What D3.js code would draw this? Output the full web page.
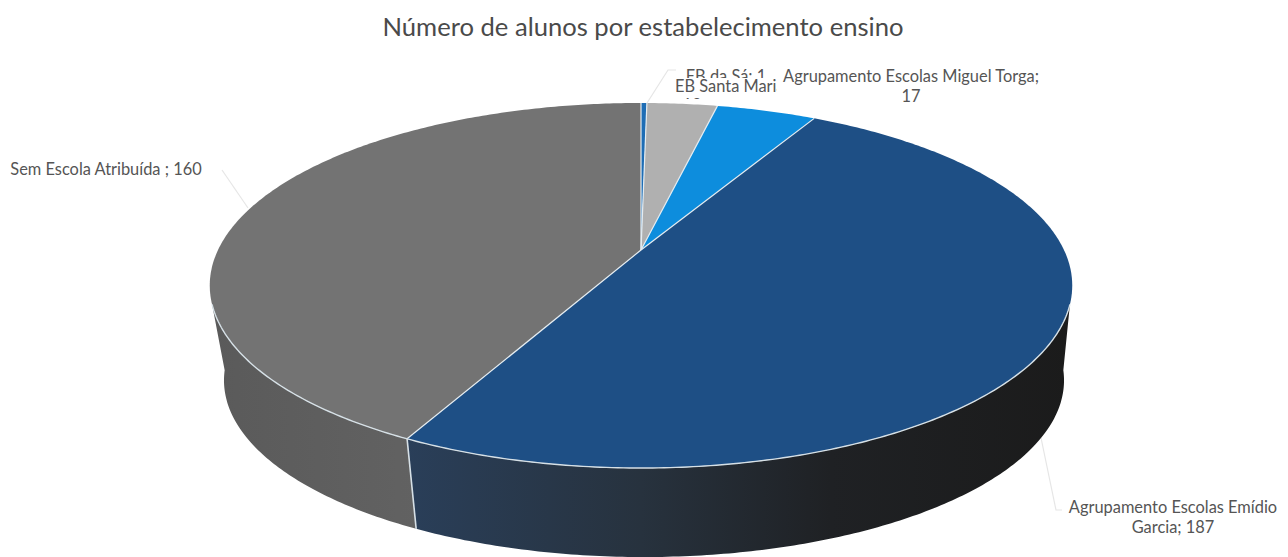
<!DOCTYPE html>
<html lang="pt">
<head>
<meta charset="utf-8">
<title>Número de alunos por estabelecimento ensino</title>
<script src="https://cdn.jsdelivr.net/npm/d3@7/dist/d3.min.js"></script>
<style>
  html, body { margin: 0; background: #fff; }
  svg { display: block; }
  text { font-family: Lato, "Open Sans", sans-serif; fill: #555; }
  .title { font-size: 25.6px; fill: #4a4a4a; }
  .label { font-size: 16.4px; text-anchor: middle; }
</style>
</head>
<body>
<svg id="chart" width="1288" height="557"></svg>
<script>
/* ── Data ─────────────────────────────────────────────────────────────────── */

const CHART_TITLE = "Número de alunos por estabelecimento ensino";
const CATEGORIES = [
  "EB da Sá",
  "EB Santa Maria",
  "Agrupamento Escolas Miguel Torga",
  "Agrupamento Escolas Emídio Garcia",
  "Sem Escola Atribuída ",
];
const VALUES = [1, 12, 17, 187, 160];

/* ── Style and layout ─────────────────────────────────────────────────────── */

const TOP_COLORS = ["#1e6db5", "#b0b0b0", "#0d8ddd", "#1e4f85", "#737373"];
const RIM_COLOR = "#d6e0e6";
const LEADER_COLOR = "#e6e6e6";

// perspective of the disc: apex on screen, tilt, and x/y spread per rim
const TILT = 0.1945;
const TOP_RIM = { cx: 641, cy: 250, sx: 423, sy: 175.6 };
const BOTTOM_RIM = { cx: 644, cy: 346, sx: 412, sy: 170 };

// label boxes, painted in this order so later ones cover earlier ones
const LABELS = [
  { cat: 0, x: [726], y: [82], box: null },
  { cat: 1, x: [732, 692], y: [92, 111], box: [670, 78, 107, 25], clipTo: 99 },
  { cat: 2, x: [911, 911], y: [82, 102], box: [777, 66, 268, 40] },
  { cat: 3, x: [1173, 1173], y: [513, 533], box: [1062, 494, 222, 46] },
  { cat: 4, x: [106], y: [175], box: [4, 158, 204, 24] },
];
const WRAP_AFTER = { 1: "EB Santa Maria;", 2: "Agrupamento Escolas Miguel Torga;", 3: "Agrupamento Escolas Emídio" };

const LEADERS = [
  [[676, 70], [668, 70], [647, 103]],
  [[222, 170], [248, 208]],
  [[1040, 433], [1056, 510], [1062, 510]],
];

/* ── Helpers ──────────────────────────────────────────────────────────────── */

const svg = d3.select("#chart");
const defs = svg.append("defs");
const toPath = d3.line();

// angle is clockwise from 12 o'clock, in radians, as d3.pie gives it
function project(rim, angle) {
  const x = Math.sin(angle);
  const y = -Math.cos(angle);
  const w = 1 - TILT * y;
  const sx = d3.scaleLinear().domain([-1, 1]).range([rim.cx - rim.sx, rim.cx + rim.sx]);
  const sy = d3.scaleLinear().domain([-1, 1]).range([rim.cy - rim.sy, rim.cy + rim.sy]);
  return [sx(x / w), sy(y / w)];
}

function arcPoints(rim, a0, a1) {
  const n = Math.max(2, Math.ceil(Math.abs(a1 - a0) * 90));
  return d3.range(n + 1).map((i) => project(rim, a0 + ((a1 - a0) * i) / n));
}

const deg = (d) => (d * Math.PI) / 180;

function gradient(id, stops) {
  const g = defs.append("linearGradient")
    .attr("id", id)
    .attr("gradientUnits", "userSpaceOnUse")
    .attr("x1", 210).attr("x2", 1072).attr("y1", 0).attr("y2", 0);
  stops.forEach(([o, c]) => g.append("stop").attr("offset", o).attr("stop-color", c));
}

/* ── Title ────────────────────────────────────────────────────────────────── */

svg.append("text")
  .attr("class", "title")
  .attr("x", 643)
  .attr("y", 36)
  .attr("text-anchor", "middle")
  .text(CHART_TITLE);

/* ── Leaders and labels ───────────────────────────────────────────────────── */

LEADERS.forEach((pts) => {
  svg.append("path")
    .attr("d", toPath(pts))
    .attr("fill", "none")
    .attr("stroke", LEADER_COLOR)
    .attr("stroke-width", 1.2);
});

LABELS.forEach((l) => {
  if (l.box) {
    svg.append("rect")
      .attr("x", l.box[0]).attr("y", l.box[1])
      .attr("width", l.box[2]).attr("height", l.box[3])
      .attr("fill", "#fff");
  }
  const full = `${CATEGORIES[l.cat]}; ${VALUES[l.cat]}`;
  const head = WRAP_AFTER[l.cat];
  const lines = head ? [head, full.slice(head.length).trim()] : [full];
  // the second line of a squeezed label only peeks out of its box
  if (l.clipTo) {
    defs.append("clipPath")
      .attr("id", `clip-${l.cat}`)
      .append("rect")
      .attr("x", 0).attr("y", 0)
      .attr("width", 1288).attr("height", l.clipTo);
  }
  lines.forEach((t, i) => {
    const el = svg.append("text")
      .attr("class", "label")
      .attr("x", l.x[i])
      .attr("y", l.y[i])
      .text(t);
    if (l.clipTo) el.attr("clip-path", `url(#clip-${l.cat})`);
  });
});

/* ── Pie ──────────────────────────────────────────────────────────────────── */

const slices = d3.pie().sort(null).startAngle(0).endAngle(2 * Math.PI)(VALUES);
const color = d3.scaleOrdinal().domain(d3.range(VALUES.length)).range(TOP_COLORS);
const seam = slices[3].endAngle;
const rimRight = deg(107);
const rimLeft = deg(253);

// side wall, only the two big slices reach the front
gradient("wall-blue", [[0.2, "#2a405c"], [0.5, "#27323e"], [0.72, "#1f2124"], [1, "#1b1b1b"]]);
gradient("wall-grey", [[0, "#5a5a5a"], [0.25, "#626262"]]);

svg.append("path")
  .attr("d", toPath([
    ...arcPoints(TOP_RIM, rimRight, seam),
    ...arcPoints(BOTTOM_RIM, seam, deg(98)),
  ]) + "Z")
  .attr("fill", "url(#wall-blue)");

svg.append("path")
  .attr("d", toPath([
    ...arcPoints(TOP_RIM, seam, rimLeft),
    ...arcPoints(BOTTOM_RIM, deg(262), seam),
  ]) + "Z")
  .attr("fill", "url(#wall-grey)");

// top face
slices.forEach((s) => {
  svg.append("path")
    .attr("d", toPath([[TOP_RIM.cx, TOP_RIM.cy], ...arcPoints(TOP_RIM, s.startAngle, s.endAngle)]) + "Z")
    .attr("fill", color(s.index));
});

// radial separators
slices.forEach((s) => {
  svg.append("path")
    .attr("d", toPath([[TOP_RIM.cx, TOP_RIM.cy], project(TOP_RIM, s.startAngle)]))
    .attr("stroke", "#e4ecf1")
    .attr("stroke-width", 1.2);
});

// front rim and the vertical seam between the walls
svg.append("path")
  .attr("d", toPath(arcPoints(TOP_RIM, rimRight, rimLeft)))
  .attr("fill", "none")
  .attr("stroke", RIM_COLOR)
  .attr("stroke-width", 1.4);

svg.append("path")
  .attr("d", toPath([project(TOP_RIM, seam), project(BOTTOM_RIM, seam)]))
  .attr("stroke", RIM_COLOR)
  .attr("stroke-width", 1.6);
</script>
</body>
</html>
